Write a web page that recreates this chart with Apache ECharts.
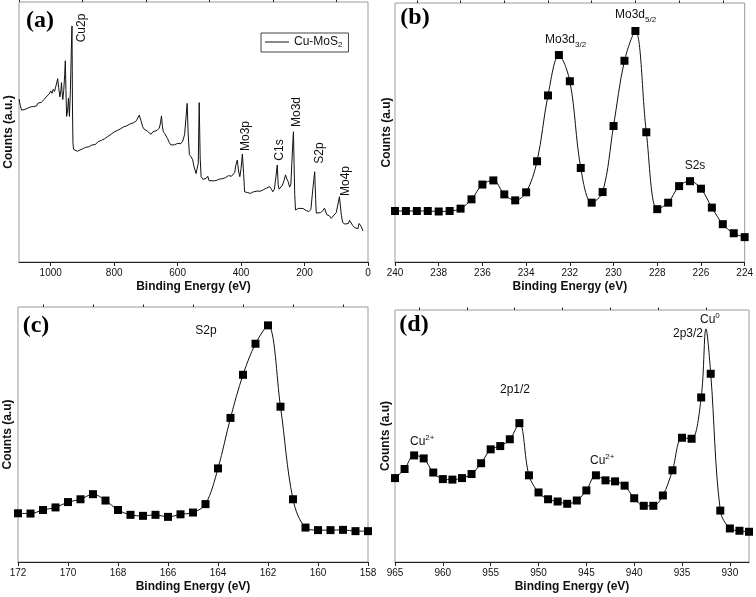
<!DOCTYPE html>
<html>
<head>
<meta charset="utf-8">
<script src="https://cdn.jsdelivr.net/npm/echarts@6/dist/echarts.min.js"></script>
<style>html,body{margin:0;padding:0;background:#fff}#c{width:756px;height:597px}</style>
</head>
<body>
<div id="c"></div>
<script>
// ---------- DATA ----------
// (a) survey spectrum: binding energy (eV) and relative counts
const surveyE = [1100,1096,1092,1088,1084,1080,1075,1070,1065,1060,1055,1050,1045,1040,1035,1030,1025,1020,1015,1010,1005,1000,996,992,988,984,981,978,975,971,968,966,964,962,959,956,954,952,950,947,944,942,941,938,935,933,931.5,930,928,922,916,910,900,890,880,870,860,850,840,830,820,810,800,790,780,770,760,750,740,730,724,721,716,710,705,700,695,690,684,678,672,665,658,654,651,648,645,640,637,632,626,621,616,610,605,600,595,590,584,578,574,570,567,563,558,553,548,542,538,535,532,529,526,520,515,510,505,501,495,485,475,468,460,450,440,436,430,426,420,416,412,408,404,400,396,392,389,385,380,370,363,350,340,330,320,310,305,300,295,290,286,283,280,276,270,265,260,256,252,247,243,240,237,235,233,231,228.5,226,224,220,215,205,195,187,184,180,174,168,165,163,162,160,157,150,143,137,130,125,122,119,116,110,100,90,84,80,76,73,70,67,62,58,53,48,45,42,39,36,32,28,21,16,10,6,4,2,0];
const surveyI = [62.7,60.2,58.4,58.0,58.6,58.1,59.0,58.5,59.6,58.9,59.8,60.4,60.0,61.1,60.5,61.4,62.1,62.6,63.4,63.9,64.6,65.8,64.9,66.4,65.6,67.5,67.5,70.5,67.0,63.5,66.0,69.0,65.0,62.5,66.0,72.0,77.4,66.0,56.0,58.0,63.0,58.0,56.0,66.0,82.0,90.8,60.0,46.0,43.3,42.8,42.6,43.3,43.5,44.1,44.3,45.0,45.2,46.3,46.8,47.4,48.3,49.1,50.0,50.6,51.2,52.0,52.4,53.1,53.5,54.3,55.0,56.5,54.5,52.0,51.0,51.6,50.3,49.7,49.1,50.1,49.5,50.6,51.5,53.5,56.2,52.0,50.1,49.3,49.1,47.5,45.9,45.0,44.6,45.1,45.2,45.6,45.9,45.5,46.5,49.0,55.0,61.0,50.0,41.3,40.5,39.5,36.5,34.0,33.4,38.0,61.3,40.0,32.8,31.8,31.4,32.2,33.0,31.3,31.6,31.2,31.5,31.9,32.0,32.4,33.2,33.8,33.0,32.8,34.5,37.5,39.2,35.0,32.8,36.0,41.5,34.0,27.0,26.5,26.7,26.4,26.9,27.3,27.2,27.8,28.4,29.0,28.2,27.0,28.0,33.0,37.3,29.5,28.0,28.6,29.5,31.2,33.5,32.0,31.0,28.8,30.0,38.0,46.0,50.1,38.0,26.0,20.0,20.2,20.4,20.6,21.0,20.6,19.8,19.4,19.9,20.2,28.0,34.7,24.0,18.8,18.6,18.3,18.7,19.0,19.6,20.7,18.2,17.6,17.8,17.2,16.8,16.5,19.0,25.1,18.0,15.2,15.0,14.6,14.3,14.1,14.8,16.0,15.0,14.0,13.8,13.2,12.9,12.6,12.8,14.8,13.6,12.0];

// (b) Mo 3d region
const moE = [240,239.5,239,238.5,238,237.5,237,236.5,236,235.5,235,234.5,234,233.5,233,232.5,232,231.5,231,230.5,230,229.5,229,228.5,228,227.5,227,226.5,226,225.5,225,224.5,224];
const moI = [19.7,19.7,19.7,19.7,19.5,19.7,20.6,24.2,29.9,31.5,26.1,23.8,26.9,38.9,64.3,79.9,69.8,36.3,22.9,27.0,52.5,77.7,89.2,50.1,20.4,22.9,29.3,31.2,28.3,21.0,14.6,11.1,9.6];

// (c) S 2p region
const sE = [172,171.5,171,170.5,170,169.5,169,168.5,168,167.5,167,166.5,166,165.5,165,164.5,164,163.5,163,162.5,162,161.5,161,160.5,160,159.5,159,158.5,158];
const sI = [19.1,19.0,20.4,21.4,23.5,24.6,26.6,24.1,20.4,18.5,18.1,18.5,17.7,18.7,19.4,22.7,36.7,56.5,73.4,85.6,92.8,60.9,24.6,13.5,12.5,12.5,12.6,12.1,12.1];

// (d) Cu 2p region
const cuE = [965,964,963,962,961,960,959,958,957,956,955,954,953,952,951,950,949,948,947,946,945,944,943,942,941,940,939,938,937,936,935,934,933,932,931,930,929,928];
const cuI = [33.3,36.9,42.3,41.1,35.5,32.9,32.7,33.3,34.9,39.2,44.7,46.0,48.7,55.1,34.4,27.6,24.9,24.0,23.1,24.4,28.4,34.4,32.4,32.0,30.3,25.3,22.3,22.3,26.4,36.4,49.3,48.9,65.3,74.7,20.4,13.3,12.4,12.0];
// curve maximum of the Cu0 2p3/2 peak between the markers
const cuPeakE = 932.5, cuPeakI = 92.5;

// tick labels
const ticksA = [0,200,400,600,800,1000];
const minorA = [100,300,500,700,900,1100];
const ticksB = [224,226,228,230,232,234,236,238,240];
const minorB = [225,227,229,231,233,235,237,239];
const ticksC = [158,160,162,164,166,168,170,172];
const minorC = [159,161,163,165,167,169,171];
const ticksD = [930,935,940,945,950,955,960,965];
const minorD = [932.5,937.5,942.5,947.5,952.5,957.5,962.5];

// ---------- CHART ----------
const zip = (a, b) => a.map((x, i) => [x, b[i]]);
const FONT = '"Liberation Sans", Arial, sans-serif';
const SERIF = '"Liberation Serif", "Times New Roman", serif';

const grids = [
  {left: 19, right: 388, top: 2, bottom: 335},
  {left: 395, right: 10, top: 3, bottom: 335},
  {left: 18, right: 388, top: 307, bottom: 35},
  {left: 395, right: 7, top: 310, bottom: 35}
].map(g => Object.assign(g, {show: true, borderColor: '#9a9a9a', borderWidth: 1, containLabel: false}));

const ranges = [[0,1100],[224,240],[158,172],[928,965]];
const majors = [ticksA, ticksB, ticksC, ticksD];
const minors = [minorA, minorB, minorC, minorD];
const yNames = ['Counts (a.u.)', 'Counts (a.u)', 'Counts (a.u)', 'Counts (a.u)'];
const yGaps = [4, 2, 4, 3];

const xAxis = [], yAxis = [];
for (let i = 0; i < 4; i++) {
  xAxis.push({
    type: 'value', gridIndex: i, min: ranges[i][0], max: ranges[i][1], inverse: true,
    name: 'Binding Energy (eV)', nameLocation: 'middle', nameGap: 19,
    nameTextStyle: {fontFamily: FONT, fontWeight: 'bold', fontSize: 12, color: '#111'},
    axisLine: {show: true, onZero: false, lineStyle: {color: '#222', width: 1}},
    axisTick: {show: true, inside: false, length: 4, customValues: majors[i], lineStyle: {color: '#222'}},
    axisLabel: {show: true, customValues: majors[i], margin: 6, fontFamily: FONT, fontSize: 10, color: '#111',
                formatter: v => String(v)},
    splitLine: {show: false}
  });
  xAxis.push({
    type: 'value', gridIndex: i, min: ranges[i][0], max: ranges[i][1], inverse: true,
    axisLine: {show: false, onZero: false},
    axisTick: {show: true, inside: false, length: 2.5, customValues: minors[i], lineStyle: {color: '#222'}},
    axisLabel: {show: false}, splitLine: {show: false}
  });
  yAxis.push({
    type: 'value', gridIndex: i, min: 0, max: 100,
    name: yNames[i], nameLocation: 'middle', nameGap: yGaps[i], nameRotate: 90,
    nameTextStyle: {fontFamily: FONT, fontWeight: 'bold', fontSize: 12, color: '#111'},
    axisLine: {show: false}, axisTick: {show: false}, axisLabel: {show: false}, splitLine: {show: false}
  });
}

const lineStyle = {color: '#111', width: 1};
const sq = (name, xi, yi, data) => ({
  name, type: 'scatter', xAxisIndex: xi, yAxisIndex: yi, data,
  symbol: 'rect', symbolSize: 8, itemStyle: {color: '#000', opacity: 1}, z: 3, silent: true
});
const curve = (name, xi, yi, data, smooth) => ({
  name, type: 'line', xAxisIndex: xi, yAxisIndex: yi, data, smooth,
  showSymbol: false, symbol: 'none', lineStyle, itemStyle: {color: '#111'}, z: 2, silent: true
});

const cuCurve = zip(cuE, cuI);
cuCurve.push([cuPeakE, cuPeakI]);
cuCurve.sort((p, q) => q[0] - p[0]);

const series = [
  curve('Cu-MoS2', 0, 0, zip(surveyE, surveyI), false),
  curve('b-line', 2, 1, zip(moE, moI), 0.35),
  sq('b-pts', 2, 1, zip(moE, moI)),
  curve('c-line', 4, 2, zip(sE, sI), 0.35),
  sq('c-pts', 4, 2, zip(sE, sI)),
  curve('d-line', 6, 3, cuCurve, 0.35),
  sq('d-pts', 6, 3, zip(cuE, cuI))
];

const txt = (x, y, text, extra) => Object.assign({
  type: 'text', x, y, silent: true,
  style: Object.assign({text, font: '12px ' + FONT, fill: '#111', align: 'center', verticalAlign: 'middle'}, extra || {})
});
const rot = (x, y, text) => Object.assign(txt(x, y, text), {rotation: Math.PI / 2});
const richSub = {
  a: {font: '12px ' + FONT, fill: '#111', verticalAlign: 'bottom'},
  s: {font: '8px ' + FONT, fill: '#111', verticalAlign: 'bottom', padding: [0, 0, -3, 0]},
  p: {font: '8px ' + FONT, fill: '#111', verticalAlign: 'top', padding: [-2, 0, 0, 0]}
};

const graphic = [
  txt(40, 21, '(a)', {font: 'bold 24px ' + SERIF, fill: '#000'}),
  txt(415, 18, '(b)', {font: 'bold 24px ' + SERIF, fill: '#000'}),
  txt(36, 326, '(c)', {font: 'bold 24px ' + SERIF, fill: '#000'}),
  txt(414, 325, '(d)', {font: 'bold 24px ' + SERIF, fill: '#000'}),
  rot(82, 28, 'Cu2p'),
  rot(246, 136, 'Mo3p'),
  rot(280, 150, 'C1s'),
  rot(297, 112, 'Mo3d'),
  rot(320, 153, 'S2p'),
  rot(346, 181, 'Mo4p'),
  txt(545, 40, '{a|Mo3d}{s|3/2}', {align: 'left', rich: richSub}),
  txt(615, 15, '{a|Mo3d}{s|5/2}', {align: 'left', rich: richSub}),
  txt(695, 166, 'S2s'),
  txt(206, 331, 'S2p'),
  txt(700, 320, '{a|Cu}{p|0}', {align: 'left', rich: richSub}),
  txt(688, 334, '2p3/2'),
  txt(515, 390, '2p1/2'),
  txt(410, 442, '{a|Cu}{p|2+}', {align: 'left', rich: richSub}),
  txt(590, 461, '{a|Cu}{p|2+}', {align: 'left', rich: richSub})
];

const chart = echarts.init(document.getElementById('c'), null, {renderer: 'canvas'});
chart.setOption({
  animation: false,
  backgroundColor: '#fff',
  grid: grids,
  xAxis, yAxis, series, graphic,
  legend: {
    data: ['Cu-MoS2'], left: 261, top: 33,
    borderColor: '#444', borderWidth: 1, padding: [3, 6, 3, 4],
    icon: 'rect', itemWidth: 24, itemHeight: 1, itemGap: 4,
    itemStyle: {color: '#111'},
    formatter: () => '{a|Cu-MoS}{s|2}',
    textStyle: {
      fontFamily: FONT, fontSize: 12, color: '#111',
      rich: {a: {fontFamily: FONT, fontSize: 12, color: '#111'},
             s: {fontFamily: FONT, fontSize: 8, color: '#111', verticalAlign: 'bottom', padding: [6, 0, 0, 0]}}
    }
  }
});
</script>
</body>
</html>
